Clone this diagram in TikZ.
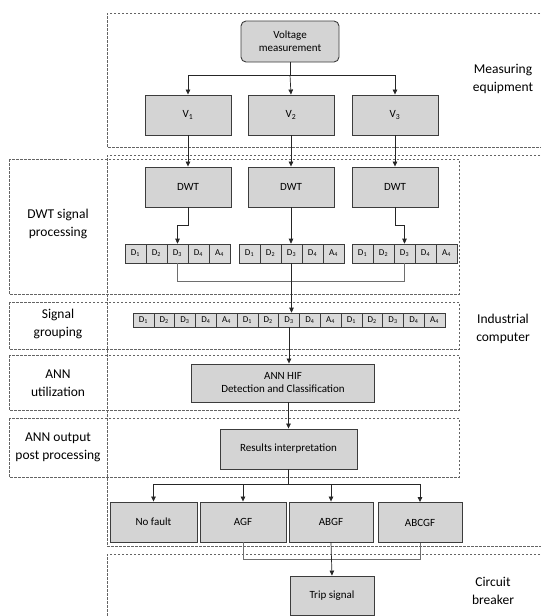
\documentclass[tikz,border=0pt]{standalone}
\usepackage{fontspec}
\setmainfont{Carlito}
\usetikzlibrary{arrows.meta}
\definecolor{boxgray}{RGB}{212,212,212}
\definecolor{cellgray}{RGB}{218,218,218}
\definecolor{edgegray}{RGB}{60,60,60}
\definecolor{regiongray}{RGB}{100,100,100}
\definecolor{linkgray}{RGB}{110,110,110}
\tikzset{
  box/.style={draw=edgegray, fill=boxgray, line width=0.9pt, inner sep=0pt, font=\fontsize{11}{13}\selectfont, align=center},
  cell/.style={draw=edgegray, fill=cellgray, line width=0.6pt, inner sep=0pt, font=\fontsize{9}{9}\selectfont},
  region/.style={draw=regiongray, dashed, dash pattern=on 2.5pt off 1.5pt, line width=0.7pt},
  label/.style={font=\fontsize{13.5}{18}\selectfont, align=center, inner sep=0pt},
  link/.style={draw=black!85, line width=0.7pt},
  graylink/.style={draw=linkgray, line width=0.7pt},
  arr/.style={link, -{Triangle[length=5pt,width=4.5pt]}}
}
\begin{document}
\begin{tikzpicture}[x=1pt,y=-1pt]
\useasboundingbox (0,0) rectangle (541,616);
\clip (0,0) rectangle (541,616);

% regions
\draw[region] (548,13) -| (107,147) -- (548,147);
\draw[region] (548,155) -| (107,546) -- (548,546);
\draw[region] (548,554) -| (107,620);
\draw[region] (9,159) rectangle (459,294);
\draw[region] (9,302) rectangle (459,349);
\draw[region] (9,355) rectangle (459,410);
\draw[region] (9,418) rectangle (459,477);

% labels
\node[label] (lme) at (503,79) {Measuring\\equipment};
\node[label] (lic) at (503,329) {Industrial\\computer};
\node[label] (lcb) at (493,591) {Circuit\\breaker};
\node[label] (ldwt) at (58,224) {DWT signal\\processing};
\node[label] (lsg) at (58,324) {Signal\\grouping};
\node[label] (lann) at (58,383) {ANN\\utilization};
\node[label] (lout) at (58,447) {ANN output\\post processing};

% measuring
\node[box, rounded corners=5pt, minimum width=98pt, minimum height=41pt] (vm) at (290,41.5) {Voltage\\measurement};
\node[box, minimum width=86pt, minimum height=40pt] (v1) at (188,115) {V\textsubscript{1}};
\node[box, minimum width=86pt, minimum height=40pt] (v2) at (291,115) {V\textsubscript{2}};
\node[box, minimum width=86pt, minimum height=40pt] (v3) at (395,115) {V\textsubscript{3}};
\coordinate (b1) at (290,75);
\draw[link] (vm.south) -- (b1);
\draw[arr] (b1) -| (v1.north);
\draw[arr] (b1) -- (v2.north);
\draw[arr] (b1) -| (v3.north);

% DWT
\node[box, minimum width=86pt, minimum height=40pt] (d1) at (188,187) {DWT};
\node[box, minimum width=86pt, minimum height=40pt] (d2) at (291,187) {DWT};
\node[box, minimum width=86pt, minimum height=40pt] (d3) at (395,187) {DWT};
\draw[arr] (v1.south) -- (d1.north);
\draw[arr] (v2.south) -- (d2.north);
\draw[arr] (v3.south) -- (d3.north);

\foreach \g/\x in {1/125,2/239,3/352}{
  \foreach \i/\l/\s in {1/D/1,2/D/2,3/D/3,4/D/4,5/A/4}{
    \node[cell, minimum width=21pt, minimum height=19pt] (g\g c\i) at ({\x+(\i-0.5)*21},253.5) {\l\textsubscript{\s}};
  }
}
\draw[arr] (d1.south) -- ++(0,18) -| (g1c3.north);
\draw[arr] (d2.south) -- (d2.south |- g2c3.north);
\draw[arr] (d3.south) -- ++(0,18) -| (g3c3.north);

% grouping row
\foreach \i/\l/\s in {1/D/1,2/D/2,3/D/3,4/D/4,5/A/4,6/D/1,7/D/2,8/D/3,9/D/4,10/A/4,11/D/1,12/D/2,13/D/3,14/D/4,15/A/4}{
  \node[cell, minimum width=20.8pt, minimum height=14pt] (r\i) at ({133+(\i-0.5)*20.8},320) {\l\textsubscript{\s}};
}
\draw[graylink] (g1c3.south) -- ++(0,18) -| (g3c3.south);
\draw[arr] (g2c3.south) -- (g2c3.south |- r8.north);

% ANN
\node[box, minimum width=183pt, minimum height=38pt] (ann) at (283,383) {ANN HIF\\Detection and Classification};
\draw[arr] (r8.south) -- (r8.south |- ann.north);
\node[box, minimum width=137pt, minimum height=40pt] (res) at (288.5,449) {Results interpretation};
\draw[arr] (res.north |- ann.south) -- (res.north);

% outputs
\node[box, minimum width=87pt, minimum height=40pt] (nf) at (153.5,522) {No fault};
\node[box, minimum width=86pt, minimum height=40pt] (agf) at (243,522) {AGF};
\node[box, minimum width=84pt, minimum height=40pt] (abgf) at (331,522) {ABGF};
\node[box, minimum width=84pt, minimum height=40pt] (abcgf) at (420,522.5) {ABCGF};
\coordinate (b2) at (288.5,484);
\draw[link] (res.south) -- (b2);
\draw[arr] (b2) -| (nf.north);
\draw[arr] (b2) -| (agf.north);
\draw[arr] (b2) -| (abgf.north);
\draw[arr] (b2) -| (abcgf.north);

% trip
\node[box, minimum width=84pt, minimum height=39pt] (trip) at (332,595.5) {Trip signal};
\draw[graylink] (agf.south) -- ++(0,17) -| (abcgf.south);
\draw[arr] (abgf.south) -- (trip.north);
\end{tikzpicture}
\end{document}
